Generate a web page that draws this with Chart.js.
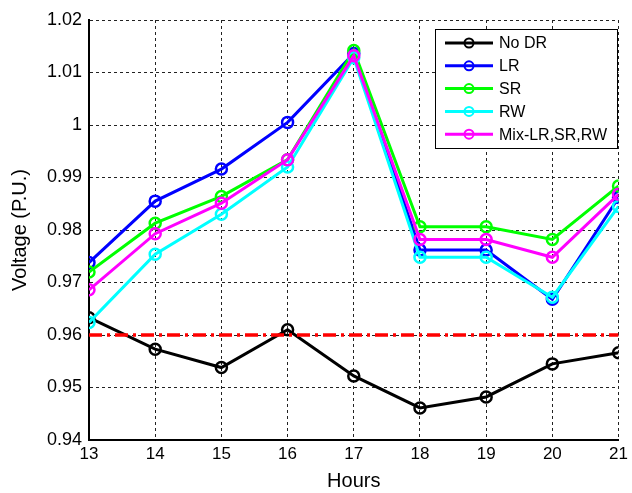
<!DOCTYPE html>
<html>
<head>
<meta charset="utf-8">
<script src="https://cdn.jsdelivr.net/npm/chart.js@4/dist/chart.umd.min.js"></script>
<style>
  body { margin: 0; background: #fff; }
  canvas { display: block; }
</style>
</head>
<body>
<canvas id="voltage-chart" width="632" height="493"></canvas>
<script>
// data
const hours = [13, 14, 15, 16, 17, 18, 19, 20, 21];
const noDR = [0.9633, 0.9573, 0.9538, 0.9610, 0.9522, 0.9461, 0.9482, 0.9545, 0.9566];
const lr   = [0.9738, 0.9855, 0.9916, 1.0005, 1.0136, 0.9762, 0.9762, 0.9668, 0.9862];
const sr   = [0.9720, 0.9813, 0.9864, 0.9934, 1.0142, 0.9806, 0.9806, 0.9782, 0.9884];
const rw   = [0.9624, 0.9754, 0.9830, 0.9920, 1.0128, 0.9748, 0.9748, 0.9672, 0.9845];
const mix  = [0.9686, 0.9793, 0.9851, 0.9934, 1.0132, 0.9782, 0.9782, 0.9748, 0.9868];
const limit = [0.96, 0.96];
const limitHours = [13, 21];
const yTicks = [0.94, 0.95, 0.96, 0.97, 0.98, 0.99, 1, 1.01, 1.02];

const FONT = '"Liberation Sans", Arial, sans-serif';

function toPoints(xs, ys) {
    return xs.map((x, i) => ({ x: x, y: ys[i] }));
}

function series(label, values, color, order) {
    return {
        label: label,
        data: toPoints(hours, values),
        borderColor: color,
        backgroundColor: color,
        borderWidth: 3,
        pointRadius: 5.5,
        pointBorderWidth: 2.5,
        pointBackgroundColor: 'transparent',
        pointBorderColor: color,
        tension: 0,
        order: order
    };
}

// legend drawn like the matlab one: line sample with a circle marker
const boxLegend = {
    id: 'boxLegend',
    afterDraw(chart) {
        const ctx = chart.ctx;
        const x0 = 435, y0 = 29, w = 182, h = 119;
        ctx.save();
        ctx.fillStyle = '#fff';
        ctx.fillRect(x0, y0, w, h);
        ctx.strokeStyle = '#000';
        ctx.lineWidth = 1;
        ctx.strokeRect(x0 + 0.5, y0 + 0.5, w, h);
        ctx.font = '16px ' + FONT;
        ctx.textBaseline = 'middle';
        let row = 0;
        chart.data.datasets.forEach(ds => {
            if (!ds.inLegend) return;
            const y = 43 + row * 22.8;
            ctx.strokeStyle = ds.borderColor;
            ctx.lineWidth = 3;
            ctx.beginPath();
            ctx.moveTo(445, y);
            ctx.lineTo(493, y);
            ctx.stroke();
            ctx.lineWidth = 2;
            ctx.beginPath();
            ctx.arc(469, y, 4.5, 0, Math.PI * 2);
            ctx.stroke();
            ctx.fillStyle = '#000';
            ctx.fillText(ds.label, 499, y + 1);
            row++;
        });
        ctx.restore();
    }
};

const datasets = [
    series('No DR', noDR, '#000000', 5),
    series('LR', lr, '#0000ff', 4),
    series('SR', sr, '#00ff00', 3),
    series('RW', rw, '#00ffff', 2),
    series('Mix-LR,SR,RW', mix, '#ff00ff', 1)
];
datasets.forEach(d => d.inLegend = true);
datasets.push({
    label: 'limit',
    data: toPoints(limitHours, limit),
    borderColor: '#ff0000',
    borderWidth: 3.5,
    borderDash: [13, 5, 3, 5],
    pointRadius: 0,
    order: 0,
    inLegend: false
});

const ctx = document.getElementById('voltage-chart').getContext('2d');
const chart = new Chart(ctx, {
    type: 'line',
    data: { datasets: datasets },
    options: {
        responsive: false,
        animation: false,
        layout: { padding: { top: 20, right: 6, left: 0, bottom: 0 } },
        plugins: {
            legend: { display: false },
            tooltip: { enabled: false }
        },
        scales: {
            x: {
                type: 'linear',
                min: 13,
                max: 21,
                ticks: {
                    stepSize: 1,
                    padding: 4,
                    color: '#000',
                    font: { family: FONT, size: 17 }
                },
                grid: { color: '#222', lineWidth: 1, drawTicks: false },
                border: { color: '#000', width: 2, dash: [3, 3] },
                title: {
                    display: true,
                    text: 'Hours',
                    color: '#000',
                    padding: { top: 0, bottom: 0 },
                    font: { family: FONT, size: 20 }
                },
                afterFit(scale) { scale.height = 53; }
            },
            y: {
                min: 0.94,
                max: 1.02,
                afterBuildTicks(scale) {
                    scale.ticks = yTicks.map(v => ({ value: v }));
                },
                ticks: {
                    padding: 7,
                    color: '#000',
                    font: { family: FONT, size: 18 },
                    callback: v => String(Math.round(v * 100) / 100)
                },
                grid: { color: '#222', lineWidth: 1, drawTicks: false },
                border: { color: '#000', width: 2, dash: [3, 3] },
                title: {
                    display: true,
                    text: 'Voltage (P.U.)',
                    color: '#000',
                    padding: { top: 8, bottom: 0 },
                    font: { family: FONT, size: 20 }
                },
                afterFit(scale) { scale.width = 89; }
            }
        }
    },
    plugins: [boxLegend]
});
</script>
</body>
</html>
